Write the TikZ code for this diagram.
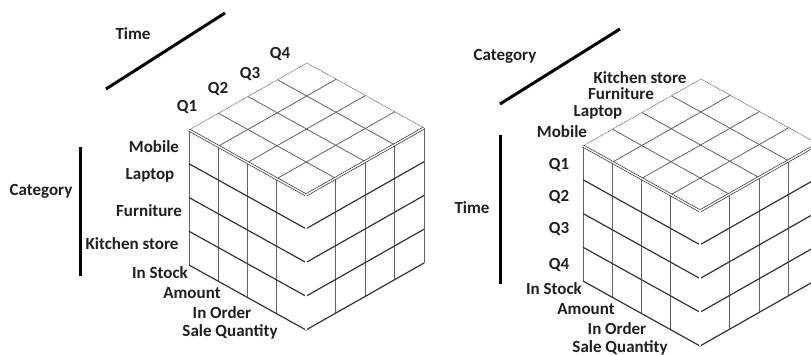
\documentclass[tikz,border=0pt]{standalone}
\usepackage{fontspec}
\setmainfont{Carlito}
\newcommand\olapcube[2]{%
  \begin{scope}[shift={(#1,#2)}]
    % top face grid
    \foreach \i in {1,2,3} {
      \draw[gridt] ({\i*29.25},{\i*16.25}) -- ++(118,-67);
      \draw[gridt] ({\i*29.5},{-\i*16.75}) -- ++(117,65);
    }
    \draw[outline] (0,0) -- (118,-67) -- (235,-2);
    % left face
    \draw[gridv] (0,0) -- (0,135);
    \foreach \i in {1,2,3} {
      \draw[gridv] ({\i*29.25},{\i*16.25}) -- ++(0,135);
    }
    \foreach \j in {1,2,3,4} {
      \draw[gridh] (0,{\j*33.75}) -- ++(117,65);
    }
    % right face
    \foreach \i in {1,2,3,4} {
      \draw[gridv] ({117+\i*29.5},{65-\i*16.75}) -- ++(0,135);
    }
    \foreach \j in {1,2,3,4} {
      \draw[gridh] (117,{65+\j*33.75}) -- ++(118,-67);
    }
    % front edges
    \draw[dbl] (0,0) -- (117,65) -- (235,-2);
    \draw[dbl] (117,65) -- (117,200);
  \end{scope}%
}
\begin{document}
\begin{tikzpicture}[x=1pt,y=-1pt,
  lbl/.style={font=\fontsize{17}{19}\selectfont\bfseries, text=black!88, inner sep=0pt},
  axisline/.style={line width=3pt, black},
  gridv/.style={line width=0.9pt, black!62},
  gridh/.style={line width=1.2pt, black!80},
  gridt/.style={line width=0.8pt, black!62},
  outline/.style={line width=0.6pt, black!60, dash pattern=on 1.2pt off 0.6pt},
  dbl/.style={line width=0.7pt, draw=black!80, double=white, double distance=1.4pt}]
\useasboundingbox (0,0) rectangle (811,354);
\clip (0,0) rectangle (811,354);

% ---------- left cube ----------
\olapcube{189}{130}
\node[lbl] (lTime) at (133,34) {Time};
\coordinate (lTa) at (106,89);
\coordinate (lTb) at (225,13);
\draw[axisline] (lTa) -- (lTb);
\node[lbl] (lQ1) at (187,107) {Q1};
\node[lbl] (lQ2) at (218,89) {Q2};
\node[lbl] (lQ3) at (250,74) {Q3};
\node[lbl] (lQ4) at (280,54) {Q4};
\node[lbl] (lMob) at (154,147) {Mobile};
\node[lbl] (lLap) at (150,175) {Laptop};
\node[lbl] (lFur) at (149,211) {Furniture};
\node[lbl] (lKit) at (132,244) {Kitchen store};
\node[lbl] (lCat) at (41,191) {Category};
\coordinate (lCa) at (80,147);
\coordinate (lCb) at (80,276);
\draw[axisline] (lCa) -- (lCb);
\node[lbl] (lIS) at (160,273) {In Stock};
\node[lbl] (lAm) at (192,293) {Amount};
\node[lbl] (lIO) at (222,313) {In Order};
\node[lbl] (lSQ) at (230,332) {Sale Quantity};

% ---------- right cube ----------
\olapcube{583}{146}
\node[lbl] (rCat) at (505,56) {Category};
\coordinate (rCa) at (500,104);
\coordinate (rCb) at (620,29);
\draw[axisline] (rCa) -- (rCb);
\node[lbl] (rKit) at (640,78) {Kitchen store};
\node[lbl] (rFur) at (621,94) {Furniture};
\node[lbl] (rLap) at (598,112) {Laptop};
\node[lbl] (rMob) at (562,132) {Mobile};
\node[lbl] (rQ1) at (559,165) {Q1};
\node[lbl] (rQ2) at (559,197) {Q2};
\node[lbl] (rQ3) at (559,229) {Q3};
\node[lbl] (rQ4) at (559,265) {Q4};
\node[lbl] (rTime) at (472,208) {Time};
\coordinate (rTa) at (500,135);
\coordinate (rTb) at (500,284);
\draw[axisline] (rTa) -- (rTb);
\node[lbl] (rIS) at (554,289) {In Stock};
\node[lbl] (rAm) at (586,309) {Amount};
\node[lbl] (rIO) at (617,329) {In Order};
\node[lbl] (rSQ) at (620,348) {Sale Quantity};
\end{tikzpicture}
\end{document}
